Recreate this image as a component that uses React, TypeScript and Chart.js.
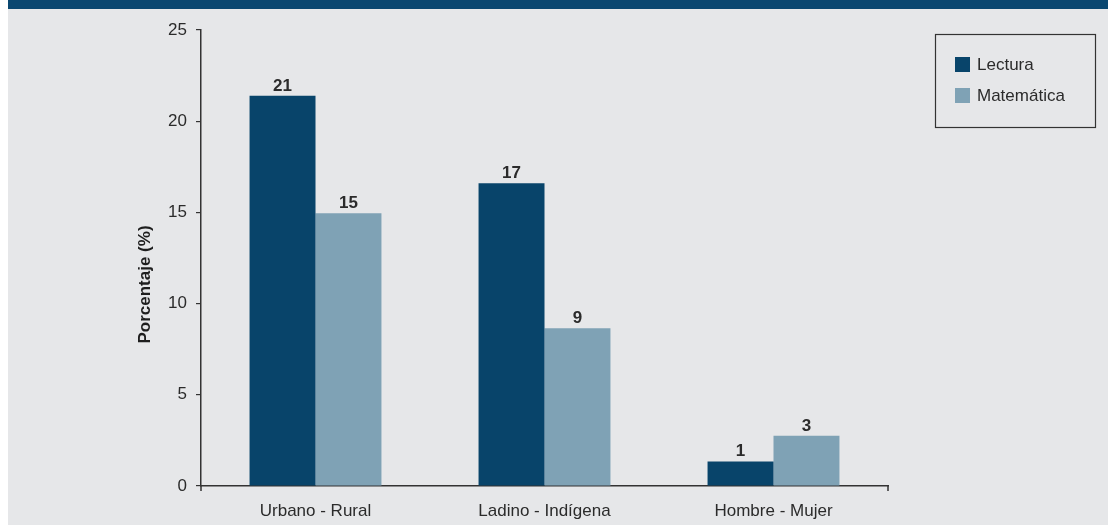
import React, { useEffect, useRef } from "react";
import { Chart, registerables } from "chart.js";

Chart.register(...registerables);

const categories = ["Urbano - Rural", "Ladino - Indígena", "Hombre - Mujer"];
const lecturaValues = [21.4, 16.6, 1.35];
const matematicaValues = [14.95, 8.65, 2.75];
const seriesNames = ["Lectura", "Matemática"];
const yTicks = [0, 5, 10, 15, 20, 25];
const yTitle = "Porcentaje (%)";

const FONT = '"Liberation Sans", Arial, Helvetica, sans-serif';
const DARK = "#08446a";
const LIGHT = "#7fa2b5";
const TEXT = "#2b2b2b";

const labelsPlugin = {
  id: "valueLabels",
  afterDatasetsDraw(chart: any) {
    const ctx = chart.ctx;
    ctx.save();
    ctx.font = `bold 17px ${FONT}`;
    ctx.fillStyle = TEXT;
    ctx.textAlign = "center";
    ctx.textBaseline = "alphabetic";
    chart.data.datasets.forEach((ds: any, i: number) => {
      const meta = chart.getDatasetMeta(i);
      meta.data.forEach((bar: any, j: number) => {
        ctx.fillText(String(Math.round(ds.data[j])), bar.x, bar.y - 5);
      });
    });
    ctx.restore();
  },
};

const extrasPlugin = {
  id: "extras",
  afterDraw(chart: any) {
    const ctx = chart.ctx;
    const a = chart.chartArea;
    ctx.save();
    ctx.strokeStyle = "#333";
    ctx.lineWidth = 1.5;
    ctx.beginPath();
    ctx.moveTo(a.left, a.bottom);
    ctx.lineTo(a.left, a.bottom + 5);
    ctx.moveTo(a.right, a.bottom);
    ctx.lineTo(a.right, a.bottom + 5);
    ctx.stroke();

    // y axis title
    ctx.save();
    ctx.translate(137, 284.5);
    ctx.rotate(-Math.PI / 2);
    ctx.font = `bold 17px ${FONT}`;
    ctx.fillStyle = "#1e1e1e";
    ctx.textAlign = "center";
    ctx.textBaseline = "middle";
    ctx.fillText(yTitle, 0, 0);
    ctx.restore();

    // legend
    ctx.lineWidth = 1.2;
    ctx.strokeStyle = "#333";
    ctx.strokeRect(927.5, 34.5, 160, 93);
    const colors = [DARK, LIGHT];
    const ys = [57, 88];
    ctx.font = `17px ${FONT}`;
    ctx.textAlign = "left";
    ctx.textBaseline = "middle";
    seriesNames.forEach((name, i) => {
      ctx.fillStyle = colors[i];
      ctx.fillRect(947, ys[i], 15, 15);
      ctx.fillStyle = TEXT;
      ctx.fillText(name, 969, ys[i] + 8);
    });
    ctx.restore();
  },
};

export default function App() {
  const ref = useRef<HTMLCanvasElement | null>(null);
  useEffect(() => {
    if (!ref.current) return;
    Chart.defaults.font.family = FONT;
    const chart = new Chart(ref.current, {
      type: "bar",
      data: {
        labels: categories,
        datasets: [
          {
            label: seriesNames[0],
            data: lecturaValues,
            backgroundColor: DARK,
            categoryPercentage: 0.576,
            barPercentage: 1,
          },
          {
            label: seriesNames[1],
            data: matematicaValues,
            backgroundColor: LIGHT,
            categoryPercentage: 0.576,
            barPercentage: 1,
          },
        ],
      },
      options: {
        animation: false,
        responsive: false,
        maintainAspectRatio: false,
        layout: { padding: { top: 30, right: 220, left: 0, bottom: 0 } },
        plugins: { legend: { display: false }, tooltip: { enabled: false } },
        scales: {
          x: {
            grid: { display: false },
            border: { display: true, color: "#333", width: 1.5 },
            ticks: { font: { size: 17 }, color: TEXT, padding: 7 },
            afterFit: (s: any) => {
              s.height = 39;
            },
          },
          y: {
            min: 0,
            max: 25,
            afterBuildTicks: (s: any) => {
              s.ticks = yTicks.map((v) => ({ value: v }));
            },
            grid: {
              drawOnChartArea: false,
              drawTicks: true,
              tickLength: 5,
              color: "#333",
              lineWidth: 1.2,
            },
            border: { display: true, color: "#333", width: 1.5 },
            ticks: { font: { size: 17 }, color: TEXT, padding: 9 },
            afterFit: (s: any) => {
              s.width = 193;
            },
          },
        },
      },
      plugins: [labelsPlugin, extrasPlugin],
    });
    return () => chart.destroy();
  }, []);

  return (
    <div
      style={{
        position: "absolute",
        left: 8,
        top: 0,
        width: 1100,
        height: 525,
        background: "#e6e7e9",
      }}
    >
      <div style={{ position: "absolute", left: 0, top: 0, width: 1100, height: 9, background: "#0a4770" }} />
      <canvas ref={ref} width={1100} height={525} style={{ position: "absolute", left: 0, top: 0 }} />
    </div>
  );
}
